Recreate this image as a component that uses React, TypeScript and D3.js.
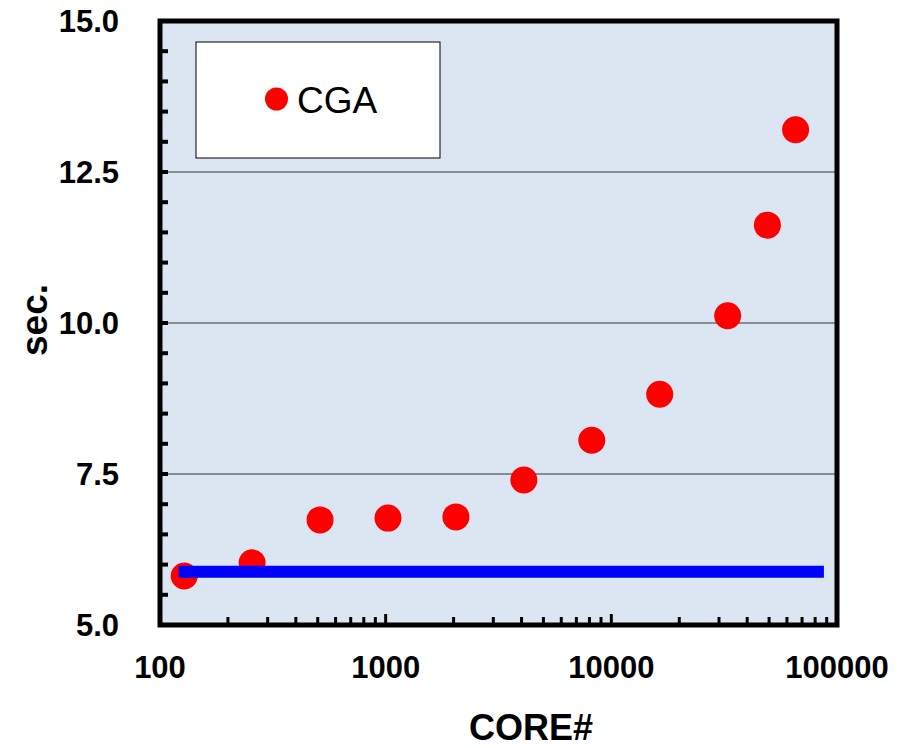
import * as d3 from 'd3';

const CORES = [128, 256, 512, 1024, 2048, 4096, 8192, 16384, 32768, 49152, 65536];
const SECONDS = [5.81, 6.03, 6.74, 6.77, 6.79, 7.4, 8.06, 8.82, 10.12, 11.62, 13.2];
const BASE_X = [121, 87500];
const BASE_Y = 5.88;
const Y_TICKS = [5, 7.5, 10, 12.5, 15];
const Y_GRID = [7.5, 10, 12.5];
const X_TICKS = [100, 1000, 10000, 100000];
const SERIES = 'CGA';

export default function App() {
  const W = 915, H = 748;
  const L = 160, R = 837, T = 21, B = 625;
  const x = d3.scaleLog().domain([100, 100000]).range([L, R]);
  const y = d3.scaleLinear().domain([5, 15]).range([B, T]);
  const font = 'Arial, "Liberation Sans", sans-serif';

  const yMinor = d3.range(5, 15.001, 0.5);
  const xMinor: number[] = [];
  [100, 1000, 10000].forEach((d) => {
    for (let k = 2; k <= 9; k++) xMinor.push(d * k);
  });

  const line = d3.line<number>().x((d) => x(d)).y(() => y(BASE_Y));

  return (
    <svg width={W} height={H} style={{ position: 'absolute', left: 0, top: 0 }} fontFamily={font}>
      <rect x={L} y={T} width={R - L} height={B - T} fill="#dce6f2" />
      {Y_GRID.map((v) => (
        <line key={v} x1={L} x2={R} y1={y(v)} y2={y(v)} stroke="#333" strokeWidth={1.2} />
      ))}

      {/* legend */}
      <rect x={196} y={42} width={244} height={116} fill="#fff" stroke="#000" strokeWidth={1} />
      <circle cx={276.5} cy={99} r={11.5} fill="#ff0000" />
      <text x={297} y={113} fontSize={37} fill="#000">{SERIES}</text>

      {CORES.map((c, i) => (
        <circle key={c} cx={x(c)} cy={y(SECONDS[i])} r={13.5} fill="#ff0000" />
      ))}
      <path d={line(BASE_X) ?? ''} stroke="#0000ff" strokeWidth={12} fill="none" />

      {/* ticks */}
      {yMinor.map((v) => (
        <line key={'ym' + v} x1={L} x2={L + 8} y1={y(v)} y2={y(v)} stroke="#000" strokeWidth={4} />
      ))}
      {xMinor.map((v) => (
        <line key={'xm' + v} x1={x(v)} x2={x(v)} y1={B} y2={B - 8} stroke="#000" strokeWidth={3} />
      ))}
      {X_TICKS.map((v) => (
        <line key={'xM' + v} x1={x(v)} x2={x(v)} y1={B} y2={B - 11} stroke="#000" strokeWidth={3} />
      ))}
      <rect x={L} y={T} width={R - L} height={B - T} fill="none" stroke="#000" strokeWidth={5} />

      {Y_TICKS.map((v) => (
        <text key={'yl' + v} x={119} y={y(v)} dy="0.36em" textAnchor="end" fontSize={31} fontWeight="bold">
          {v.toFixed(1)}
        </text>
      ))}
      {X_TICKS.map((v) => (
        <text key={'xl' + v} x={x(v)} y={678} textAnchor="middle" fontSize={31} fontWeight="bold">
          {v}
        </text>
      ))}
      <text x={531} y={740} textAnchor="middle" fontSize={36} fontWeight="bold">CORE#</text>
      <text transform="translate(47,320) rotate(-90)" textAnchor="middle" fontSize={37} fontWeight="bold">sec.</text>
    </svg>
  );
}
